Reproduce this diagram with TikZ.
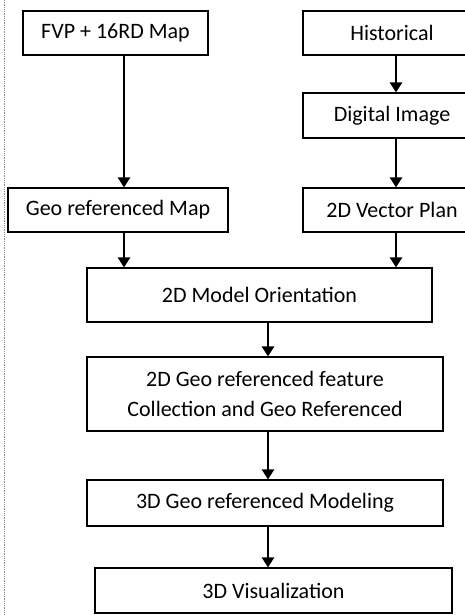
\documentclass[tikz,border=0pt]{standalone}
\usepackage{fontspec}
\setmainfont{Carlito}
\usetikzlibrary{arrows.meta}

\tikzset{block/.style={draw,line width=1.1pt,inner sep=0pt,align=center,
    font=\fontsize{22}{30}\selectfont},
  flow/.style={->,line width=2.4pt}}

\begin{document}
\begin{tikzpicture}[x=1pt,y=-1pt,>={Triangle[length=10pt,width=12pt]}]
\useasboundingbox (0,0) rectangle (465,615);
\clip (0,0) rectangle (465,615);

\draw[black!45,densely dotted,line width=0.8pt] (4,0) -- (4,615);

\coordinate (lc) at (124,0);
\coordinate (rc) at (396,0);
\coordinate (mc) at (268,0);

\node[block,minimum width=185pt,minimum height=44pt]   (fvp)  at (115.5,33)    {FVP + 16RD Map};
\node[block,minimum width=178pt,minimum height=44pt]   (hist) at (392,33)      {Historical};
\node[block,minimum width=178pt,minimum height=45pt]   (dig)  at (392,115.5)   {Digital Image};
\node[block,minimum width=220pt,minimum height=44pt]   (geo)  at (118,210)     {Geo referenced Map};
\node[block,minimum width=178pt,minimum height=44pt]   (vec)  at (392,210)     {2D Vector Plan};
\node[block,minimum width=345pt,minimum height=54pt]   (ori)  at (259.5,295)   {2D Model Orientation};
\node[block,minimum width=356pt,minimum height=74pt]   (feat) at (265,394)     {2D Geo referenced feature\\Collection and Geo Referenced};
\node[block,minimum width=356pt,minimum height=46pt]   (mod)  at (265,503)     {3D Geo referenced Modeling};
\node[block,minimum width=357pt,minimum height=45pt]   (vis)  at (273.5,590.5) {3D Visualization};

	\path[flow] (fvp.south -| lc)  edge (geo.north -| lc)
				(geo.south -| lc)  edge (ori.north -| lc)
				(hist.south -| rc) edge (dig.north -| rc)
				(dig.south -| rc)  edge (vec.north -| rc)
				(vec.south -| rc)  edge (ori.north -| rc)
				(ori.south -| mc)  edge (feat.north -| mc)
				(feat.south -| mc) edge (mod.north -| mc)
				(mod.south -| mc)  edge (vis.north -| mc);

\end{tikzpicture}
\end{document}
